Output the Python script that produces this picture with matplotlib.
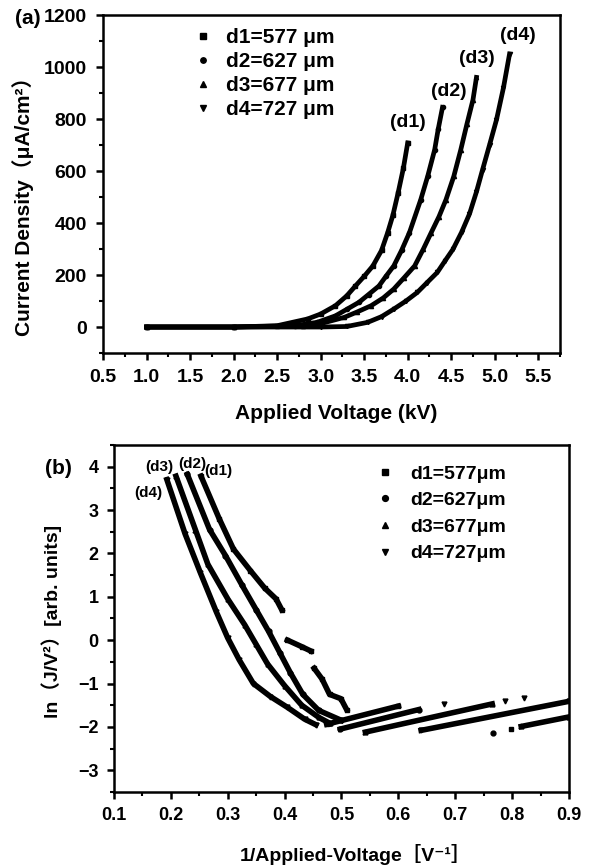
import numpy as np
import matplotlib
matplotlib.use('Agg')
import matplotlib.pyplot as plt
from matplotlib.ticker import MultipleLocator

plt.rcParams['font.family'] = ['Liberation Sans', 'Noto Sans CJK SC', 'DejaVu Sans']
plt.rcParams['font.weight'] = 'bold'
plt.rcParams['axes.labelweight'] = 'bold'

# (a) J-V, valeurs
labels = ['d1=577 μm', 'd2=627 μm', 'd3=677 μm', 'd4=727 μm']
labels_b = ['d1=577μm', 'd2=627μm', 'd3=677μm', 'd4=727μm']
marqueurs = ['s', 'o', '^', 'v']

v_d1 = [1.0, 2.0, 2.5, 2.85, 3.0, 3.17, 3.3, 3.4, 3.5, 3.6, 3.7, 3.77, 3.83, 3.89, 3.95, 4.0]
j_d1 = [0, 0, 5, 31, 50, 82, 120, 158, 195, 235, 295, 363, 430, 516, 610, 708]
v_d2 = [1.0, 2.0, 2.7, 2.96, 3.17, 3.3, 3.44, 3.55, 3.67, 3.75, 3.84, 3.93, 4.02, 4.15, 4.23, 4.31, 4.35, 4.40]
j_d2 = [0, 0, 5, 18, 43, 68, 95, 125, 158, 195, 235, 295, 363, 490, 580, 682, 760, 845]
v_d3 = [1.0, 2.0, 2.8, 3.0, 3.27, 3.42, 3.58, 3.72, 3.84, 3.96, 4.08, 4.18, 4.27, 4.36, 4.44, 4.53, 4.61, 4.68, 4.75, 4.79]
j_d3 = [0, 0, 3, 13, 37, 58, 82, 112, 146, 190, 235, 300, 363, 425, 490, 580, 682, 780, 874, 960]
v_d4 = [1.0, 2.0, 3.0, 3.3, 3.54, 3.7, 3.84, 3.98, 4.11, 4.22, 4.34, 4.43, 4.52, 4.62, 4.71, 4.79, 4.86, 4.94, 5.02, 5.1, 5.17]
j_d4 = [0, 0, 0, 2, 18, 40, 69, 100, 133, 170, 210, 255, 299, 365, 435, 520, 605, 700, 797, 920, 1050]

# (b) ln(J/V^2) vs 1/V (nan = coupure entre segments)
n = np.nan
x_d1 = [0.253, 0.285, 0.31, 0.34, 0.365, 0.385, 0.395, n, 0.405, 0.43, 0.446, n,
        0.452, 0.466, 0.479, 0.499, 0.509, n, 0.474, 0.60, n, 0.798]
y_d1 = [3.78, 2.8, 2.1, 1.6, 1.2, 0.95, 0.7, n, 0.0, -0.15, -0.25, n,
        -0.65, -0.9, -1.25, -1.35, -1.6, n, -1.94, -1.52, n, -2.06]
x_d2 = [0.229, 0.268, 0.296, 0.325, 0.35, 0.372, 0.392, 0.41, 0.432, 0.46, 0.50, n, 0.498, 0.636, n, 0.766]
y_d2 = [3.82, 2.55, 1.95, 1.27, 0.7, 0.2, -0.3, -0.75, -1.25, -1.62, -1.85, n, -2.05, -1.6, n, -2.13]
x_d3 = [0.209, 0.243, 0.265, 0.30, 0.33, 0.35, 0.37, 0.40, 0.43, 0.46, 0.48, n, 0.542, 0.765, n, 0.816, 0.9]
y_d3 = [3.78, 2.55, 1.75, 0.95, 0.35, -0.1, -0.55, -1.05, -1.5, -1.78, -1.92, n, -2.12, -1.47, n, -1.99, -1.77]
x_d4 = [0.193, 0.225, 0.252, 0.28, 0.30, 0.32, 0.345, 0.375, 0.405, 0.435, 0.455, n, 0.64, 0.9, n, 0.68, n, 0.788, n, 0.821]
y_d4 = [3.70, 2.45, 1.55, 0.65, 0.05, -0.45, -1.0, -1.3, -1.55, -1.82, -1.95, n, -2.08, -1.41, n, -1.47, n, -1.40, n, -1.33]

fig = plt.figure(figsize=(5.9, 8.68), dpi=100)
ax1 = fig.add_axes([0.1746, 0.5933, 0.7746, 0.3894])
ax2 = fig.add_axes([0.1932, 0.0876, 0.7712, 0.3998])

def style_axes(ax, fs, pad):
    for s in ax.spines.values():
        s.set_linewidth(1.8)
    ax.tick_params(which='major', direction='out', length=5, width=1.8, labelsize=fs, pad=pad)
    ax.tick_params(which='minor', direction='out', length=3, width=1.5)
    ax.tick_params(top=False, right=False)

# ---- (a)
for v, j, m, lab in zip([v_d1, v_d2, v_d3, v_d4], [j_d1, j_d2, j_d3, j_d4], marqueurs, labels):
    ax1.plot(v, j, '-', color='k', lw=3.4)
    ax1.plot(v, j, ls='none', marker=m, ms=3, color='k', label=lab)
ax1.set_xlim(0.5, 5.75)
ax1.set_ylim(-100, 1200)
ax1.xaxis.set_major_locator(MultipleLocator(0.5))
ax1.xaxis.set_minor_locator(MultipleLocator(0.25))
ax1.yaxis.set_major_locator(MultipleLocator(200))
ax1.yaxis.set_minor_locator(MultipleLocator(100))
style_axes(ax1, 14, 6.5)
ax1.set_xlabel('Applied Voltage (kV)', fontsize=15)
ax1.set_ylabel('Current Density（μA/cm²）', fontsize=15)
ax1.xaxis.set_label_coords(0.51, -0.152)
ax1.yaxis.set_label_coords(-0.15, 0.45)
ax1.legend(loc='upper left', bbox_to_anchor=(0.197, 0.962), frameon=False, fontsize=15,
           borderpad=0, borderaxespad=0, labelspacing=0.24, handlelength=1.0,
           handletextpad=0.56, markerscale=1.3)
for t, x, y in [('(d1)', 4.0, 785), ('(d2)', 4.47, 904), ('(d3)', 4.80, 1031), ('(d4)', 5.27, 1123)]:
    ax1.text(x, y, t, fontsize=14, ha='center', va='center')

# ---- (b)
for x, y, m, lab in zip([x_d1, x_d2, x_d3, x_d4], [y_d1, y_d2, y_d3, y_d4], marqueurs, labels_b):
    ax2.plot(x, y, '-', color='k', lw=4.0)
    ax2.plot(x, y, ls='none', marker=m, ms=3.5, color='k', label=lab)
ax2.set_xlim(0.1, 0.9)
ax2.set_ylim(-3.5, 4.5)
ax2.xaxis.set_major_locator(MultipleLocator(0.1))
ax2.xaxis.set_minor_locator(MultipleLocator(0.05))
ax2.yaxis.set_major_locator(MultipleLocator(1))
ax2.yaxis.set_minor_locator(MultipleLocator(0.5))
style_axes(ax2, 13, 6)
ax2.set_xlabel('1/Applied-Voltage［V⁻¹］', fontsize=14)
ax2.set_ylabel('ln（J/V²）[arb. units]', fontsize=14)
ax2.xaxis.set_label_coords(0.53, -0.15)
ax2.yaxis.set_label_coords(-0.115, 0.49)
ax2.legend(loc='upper left', bbox_to_anchor=(0.574, 0.942), frameon=False, fontsize=14,
           borderpad=0, borderaxespad=0, labelspacing=0.46, handlelength=1.0,
           handletextpad=0.79, markerscale=1.2)
for t, x, y in [('(d3)', 0.180, 4.0), ('(d2)', 0.237, 4.05), ('(d1)', 0.284, 3.91), ('(d4)', 0.161, 3.39)]:
    ax2.text(x, y, t, fontsize=11, ha='center', va='center')

fig.text(28 / 590, 1 - 18 / 868, '(a)', fontsize=15, ha='center', va='center')
fig.text(58 / 590, 1 - 468 / 868, '(b)', fontsize=15, ha='center', va='center')

plt.savefig('out.png', dpi=100)
